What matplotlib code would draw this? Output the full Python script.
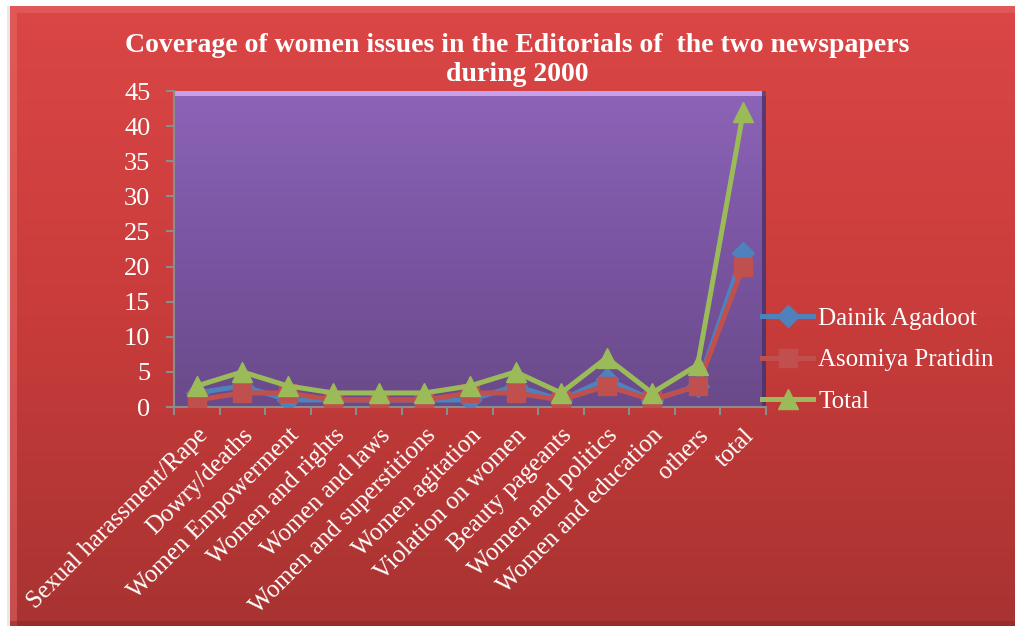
import numpy as np
import matplotlib
matplotlib.use("Agg")
import matplotlib.pyplot as plt
import matplotlib.transforms as mtransforms
from matplotlib.colors import LinearSegmentedColormap
from matplotlib.patches import Rectangle, Polygon

categories = [
    "Sexual harassment/Rape", "Dowry/deaths", "Women Empowerment",
    "Women and rights", "Women and laws", "Women and superstitions",
    "Women agitation", "Violation on women", "Beauty pageants",
    "Women and politics", "Women and education", "others", "total",
]
dainik_agadoot = [2, 3, 1, 1, 1, 1, 1, 3, 1, 4, 1, 3, 22]
asomiya_pratidin = [1, 2, 2, 1, 1, 1, 2, 2, 1, 3, 1, 3, 20]
total = [3, 5, 3, 2, 2, 2, 3, 5, 2, 7, 2, 6, 42]
y_ticks = [0, 5, 10, 15, 20, 25, 30, 35, 40, 45]

title_lines = ["Coverage of women issues in the Editorials of  the two newspapers",
               "during 2000"]

W, H = 1015, 629
fig = plt.figure(figsize=(W / 100, H / 100), dpi=100)
fig.patch.set_facecolor("white")

# red chart background with vertical gradient and a small bevel
bg = fig.add_axes([0, 0, 1, 1], zorder=-10)
bg.set_xlim(0, W)
bg.set_ylim(H, 0)
bg.axis("off")
red_cmap = LinearSegmentedColormap.from_list("red", ["#db4646", "#c83c3b", "#a83331"])
grad = np.linspace(0, 1, 256).reshape(-1, 1)
bg.imshow(grad, cmap=red_cmap, extent=[10, W, 626, 6], aspect="auto", zorder=0)
bg.add_patch(Polygon([[10, 6], [W, 6], [W, 13], [17, 13], [17, 626], [10, 626]],
                     closed=True, facecolor="#e86a6a", edgecolor="none", alpha=0.5, zorder=1))
bg.add_patch(Rectangle((10, 621), W - 10, 5, facecolor="#7e2424", edgecolor="none", alpha=0.45, zorder=1))
bg.add_patch(Rectangle((7, 6), 3, 620, facecolor="#d9d9d9", edgecolor="none", alpha=0.6, zorder=1))

# plot area
px_left, px_right, px_top, px_bottom = 174, 766, 91, 407
ax = fig.add_axes([px_left / W, 1 - px_bottom / H,
                   (px_right - px_left) / W, (px_bottom - px_top) / H])
ax.set_facecolor("none")
purple_cmap = LinearSegmentedColormap.from_list("purple", ["#8c64b8", "#7a55a2", "#6a4a8a"])
ax.imshow(grad, cmap=purple_cmap, extent=[0, 1, 0, 1], transform=ax.transAxes,
          aspect="auto", zorder=0)
ax.add_patch(Rectangle((0, 0.984), 1, 0.016, transform=ax.transAxes,
                       facecolor="#c7a0ec", edgecolor="none", zorder=1))
ax.add_patch(Rectangle((0.994, 0), 0.006, 1, transform=ax.transAxes,
                       facecolor="#4a3064", edgecolor="none", alpha=0.8, zorder=1))

x = np.arange(len(categories))
series = [
    ("Dainik Agadoot", dainik_agadoot, "#4f81bd", "D", 11),
    ("Asomiya Pratidin", asomiya_pratidin, "#c0504d", "s", 13),
    ("Total", total, "#9bbb59", "^", 14),
]
handles = []
for i, (name, vals, col, mk, ms) in enumerate(series):
    h, = ax.plot(x, vals, color=col, lw=3.6, marker=mk, markersize=ms,
                 markerfacecolor=col, markeredgecolor=col, label=name,
                 zorder=3 + i, solid_joinstyle="miter")
    handles.append(h)

ax.set_xlim(-0.5, len(categories) - 0.5)
ax.set_ylim(0, 45)
ax.set_yticks(y_ticks)
ax.set_xticks(x)
ax.set_xticks(np.arange(-0.5, len(categories), 1), minor=True)

serif = "Liberation Serif"
ax.set_yticklabels([str(v) for v in y_ticks], fontsize=19, color="white", family=serif)
ax.set_xticklabels(categories, fontsize=18, color="white", family=serif,
                   rotation=45, ha="right", rotation_mode="anchor")
shift = mtransforms.ScaledTranslation(-6 / 100, 0, fig.dpi_scale_trans)
for lbl in ax.get_xticklabels():
    lbl.set_transform(lbl.get_transform() + shift)
ax.tick_params(axis="y", length=6, width=1.5, color="#8c8c8c", pad=11)
ax.tick_params(axis="x", which="major", length=0, pad=12.5)
ax.tick_params(axis="x", which="minor", length=6, width=1.5, color="#8c8c8c")
for s in ["top", "right"]:
    ax.spines[s].set_visible(False)
for s in ["left", "bottom"]:
    ax.spines[s].set_color("#8c8c8c")
    ax.spines[s].set_linewidth(1.5)

for txt, base in zip(title_lines, [52, 81]):
    fig.text(517 / W, 1 - base / H, txt, ha="center", va="baseline", fontsize=20,
             fontweight="bold", color="white", family=serif)

leg = fig.legend(handles=handles, loc="center left", bbox_to_anchor=(762 / W, 1 - 360 / H),
                 frameon=False, prop={"family": serif, "size": 18}, labelcolor="white",
                 handlelength=2.05, handletextpad=0.2, labelspacing=0.77,
                 borderpad=0, borderaxespad=0)

fig.savefig("out.png", dpi=100)
